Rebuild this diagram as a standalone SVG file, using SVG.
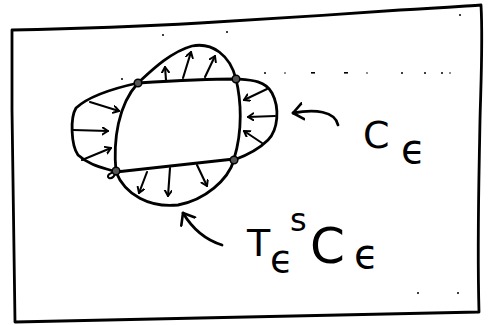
<svg xmlns="http://www.w3.org/2000/svg" width="492" height="325" viewBox="0 0 492 325">
<defs>
<style>
.ink{fill:none;stroke:#000;stroke-width:2.8;stroke-linecap:round;stroke-linejoin:round}
.thin{fill:none;stroke:#000;stroke-width:2.1;stroke-linecap:round;stroke-linejoin:round}
.vert{fill:#555;stroke:#000;stroke-width:1.5}
.speck{fill:#000}
.lbl{font-family:"DejaVu Sans","Liberation Sans",sans-serif;fill:#000}
</style>
<marker id="head" markerWidth="12" markerHeight="12" refX="6" refY="4" orient="auto" markerUnits="userSpaceOnUse" viewBox="0 0 12 12">
<path d="M0.5,0.5 L6,4 L0.5,7.5" fill="none" stroke="#000" stroke-width="2" stroke-linecap="round" stroke-linejoin="round"/>
</marker>
<marker id="bighead" markerWidth="16" markerHeight="20" refX="11" refY="10" orient="auto" markerUnits="userSpaceOnUse" viewBox="0 0 16 20">
<path d="M1,2 L11,10 L1,18" fill="none" stroke="#000" stroke-width="2.6" stroke-linecap="round" stroke-linejoin="round"/>
</marker>
</defs>
<rect width="492" height="325" fill="#fff"/>

<g id="frame">
<path class="ink" d="M12,30 C60,29 130,27 200,23 C280,18 330,15 400,10 C440,8 465,6 481,5 C483,40 481,80 480,120 C479,180 477,240 479,312 C400,313 300,315 200,318 C120,320 60,321 15,322 C14,250 13,180 12,110 C12,80 12,50 12,30"/>
</g>

<g id="specks">
<circle class="speck" cx="163" cy="35" r="1"/>
<circle class="speck" cx="227" cy="32" r="1"/>
<circle class="speck" cx="122" cy="79" r="1"/>
<circle class="speck" cx="265" cy="73" r="1"/>
<circle class="speck" cx="285" cy="73" r="0.8"/>
<rect class="speck" x="311" y="72" width="4" height="1.6"/>
<rect class="speck" x="344" y="72" width="4" height="1.6"/>
<circle class="speck" cx="367" cy="73" r="0.8"/>
<circle class="speck" cx="402" cy="73" r="1"/>
<circle class="speck" cx="425" cy="73" r="1"/>
<circle class="speck" cx="442" cy="73" r="1"/>
<circle class="speck" cx="450" cy="73" r="0.8"/>
<circle class="speck" cx="460" cy="15" r="1"/>
<circle class="speck" cx="418" cy="293" r="1"/>
<circle class="speck" cx="458" cy="293" r="1"/>
</g>

<g id="inner-region">
<path class="ink" d="M138,83 C170,81 210,79 236,79 C241,100 243,130 234,159 C200,163 150,168 116,172 C113,140 118,105 138,83 Z"/>
</g>

<g id="outer-curve">
<path class="ink" d="M138,83 C150,72 170,52 192,46 C212,42 230,55 236,79"/>
<path class="ink" d="M236,79 C250,80 265,80 272,93 C280,108 278,130 268,140 C258,150 245,156 234,160"/>
<path class="ink" d="M234,160 C228,180 205,200 178,205 C150,208 125,195 116,172"/>
<path class="ink" d="M138,83 C115,88 90,95 76,108 C70,118 71,145 78,155 C90,166 105,168 116,172"/>
<path class="thin" d="M116,172 C110,172 106,176 109,178 C112,179 115,176 116,172"/>
</g>

<g id="vector-field">
<path class="thin" marker-end="url(#head)" d="M90,102 L119,111"/>
<path class="thin" marker-end="url(#head)" d="M73,130 L108,131"/>
<path class="thin" marker-end="url(#head)" d="M82,160 L111,148"/>
<path class="thin" marker-end="url(#head)" d="M166,80 L165,67"/>
<path class="thin" marker-end="url(#head)" d="M183,78 L191,52"/>
<path class="thin" marker-end="url(#head)" d="M205,77 L215,56"/>
<path class="thin" marker-end="url(#head)" d="M267,89 L244,100"/>
<path class="thin" marker-end="url(#head)" d="M275,116 L248,117"/>
<path class="thin" marker-end="url(#head)" d="M262,143 L244,131"/>
<path class="thin" marker-end="url(#head)" d="M147,172 L139,193"/>
<path class="thin" marker-end="url(#head)" d="M170,168 L168,196"/>
<path class="thin" marker-end="url(#head)" d="M197,165 L207,186"/>
</g>

<g id="corners">
<circle class="vert" cx="138" cy="83" r="3.8"/>
<circle class="vert" cx="236" cy="79" r="3.8"/>
<circle class="vert" cx="234" cy="160" r="3.8"/>
<circle class="vert" cx="116" cy="171" r="3.8"/>
</g>

<g id="connectors">
<path class="ink" marker-end="url(#bighead)" d="M338,125 C335,111 315,109 293,113"/>
<path class="ink" marker-end="url(#bighead)" d="M222,245 C206,240 192,228 183,213"/>
</g>

<g id="label-C">
<text class="lbl"><tspan x="363" y="148" font-size="38">C</tspan><tspan x="401" y="163" font-size="40">ϵ</tspan></text>
</g>

<g id="label-TC">
<text class="lbl"><tspan x="247" y="256" font-size="38">T</tspan><tspan x="270" y="272" font-size="38">ϵ</tspan><tspan x="290" y="231" font-size="32">s</tspan><tspan x="310" y="263" font-size="50">C</tspan><tspan x="354" y="268" font-size="40">ϵ</tspan></text>
</g>
</svg>
